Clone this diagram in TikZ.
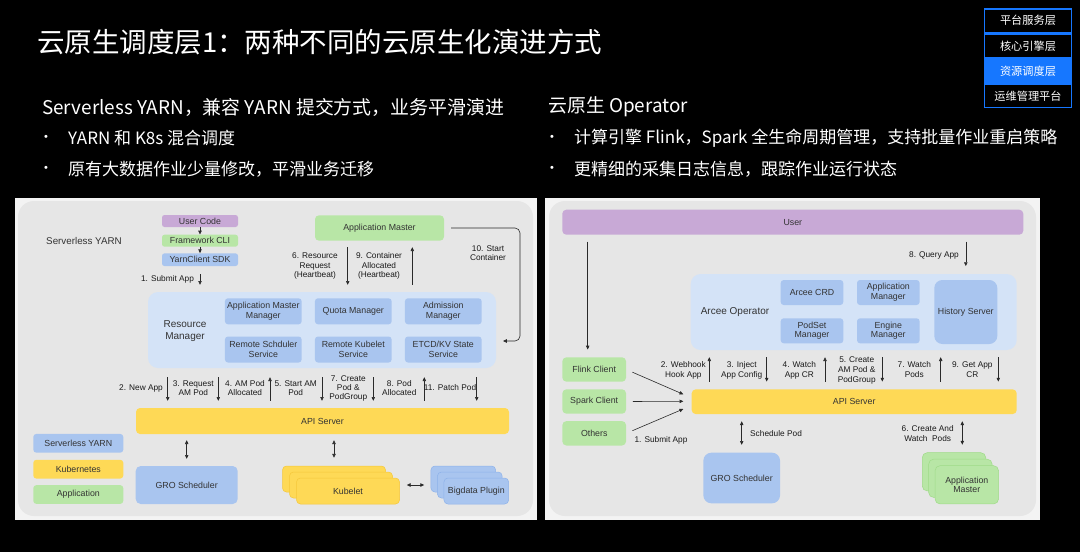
\documentclass[tikz,border=0pt]{standalone}
\usepackage{fontspec}
\setmainfont{Liberation Sans}
\newfontfamily\cjk{Noto Sans CJK SC}
\usetikzlibrary{arrows.meta,calc}
\definecolor{pbg}{HTML}{F3F3F3}
\definecolor{gbg}{HTML}{E6E6E6}
\definecolor{lb}{HTML}{D4E3F7}
\definecolor{bl}{HTML}{A9C5EF}
\definecolor{bld}{HTML}{8DB2EA}
\definecolor{gr}{HTML}{B8E6A6}
\definecolor{grd}{HTML}{9FDB88}
\definecolor{yl}{HTML}{FED956}
\definecolor{yld}{HTML}{F5C73A}
\definecolor{pu}{HTML}{C8A9D6}
\definecolor{tx}{HTML}{333333}
\definecolor{ar}{HTML}{2A2A2A}
\definecolor{nav}{HTML}{1677FF}
\newcommand\flab{\fontsize{8.8}{9.6}\selectfont}
\newcommand\farr{\fontsize{8.3}{9.2}\selectfont}
\newcommand\farrb{\fontsize{8.3}{10}\selectfont}
\newcommand\fbig{\fontsize{10}{11.5}\selectfont}
\begin{document}
\begin{tikzpicture}[x=1pt,y=-1pt,
  bx/.style={rounded corners=3pt, inner sep=0pt, align=center, font=\flab, text=tx},
  ib/.style={bx, fill=bl, minimum width=76.7pt, minimum height=26pt},
  ib2/.style={bx, fill=bl, minimum width=62.6pt, minimum height=25pt},
  kst/.style={bx, fill=yl, draw=yld, line width=0.5pt, minimum width=103pt, minimum height=26pt, rounded corners=4pt},
  bst/.style={bx, fill=bl, draw=bld, line width=0.5pt, minimum width=64.7pt, minimum height=26pt, rounded corners=4pt},
  ast/.style={bx, fill=gr, draw=grd, line width=0.5pt, minimum width=63.5pt, minimum height=38.3pt, rounded corners=5pt},
  cl/.style={bx, fill=gr, minimum width=63.7pt, minimum height=24.4pt, rounded corners=4pt},
  lg/.style={bx, minimum width=90pt, minimum height=18.7pt},
  arr/.style={-{Triangle[length=3.8pt,width=3.4pt]}, line width=0.6pt, draw=ar},
  dbl/.style={{Triangle[length=3.8pt,width=3.4pt]}-{Triangle[length=3.8pt,width=3.4pt]}, line width=0.6pt, draw=ar},
  lab/.style={font=\farr, align=center, text=black!90, inner sep=0pt},
  labr/.style={font=\farrb, align=center, text=black!90, inner sep=0pt},
  big/.style={font=\fbig, align=center, text=tx, inner sep=0pt},
  hd/.style={anchor=west, text=white, inner sep=0pt, font=\cjk\fontsize{18.9}{22}\selectfont},
  bt/.style={anchor=west, text=white, inner sep=0pt, font=\cjk\fontsize{17}{20}\selectfont},
  bdot/.style={text=white, inner sep=0pt, font=\fontsize{11}{13}\selectfont},
  navb/.style={draw=nav, line width=1.5pt, fill=black, minimum width=87pt, minimum height=23.5pt, text=white, inner sep=0pt, font=\cjk\fontsize{11.2}{13}\selectfont}
]
\useasboundingbox (0,0) rectangle (1080,552);
\fill[black] (0,0) rectangle (1080,552);

% ---------- header ----------
\node[anchor=west, text=white, inner sep=0pt, font=\cjk\fontsize{27.5}{30}\selectfont] (title) at (37,42) {云原生调度层1：两种不同的云原生化演进方式};
\node[hd] (s1) at (42,107) {Serverless YARN，兼容 YARN 提交方式，业务平滑演进};
\node[bdot] (d1) at (46,138) {•};
\node[bt] (b1) at (68,138) {YARN 和 K8s 混合调度};
\node[bdot] (d2) at (46,169) {•};
\node[bt] (b2) at (68,169) {原有大数据作业少量修改，平滑业务迁移};
\node[hd] (s2) at (548,107) {云原生 Operator};
\node[bdot] (d3) at (552,138) {•};
\node[bt] (b3) at (574,138) {计算引擎 Flink，Spark 全生命周期管理，支持批量作业重启策略};
\node[bdot] (d4) at (552,169) {•};
\node[bt] (b4) at (574,169) {更精细的采集日志信息，跟踪作业运行状态};

% nav
\node[navb] (n1) at (1028,20.5) {平台服务层};
\node[navb] (n2) at (1028,45.8) {核心引擎层};
\node[navb, fill=nav] (n3) at (1028,70.8) {资源调度层};
\node[navb] (n4) at (1028,95.8) {运维管理平台};

% ---------- panels ----------
\fill[pbg] (15,198) rectangle (537,520);
\fill[gbg, rounded corners=16pt] (18,201) rectangle (533,516);
\fill[pbg] (545,198) rectangle (1040,520);
\fill[gbg, rounded corners=16pt] (549,201) rectangle (1036,516);

% ---------- left diagram ----------
\node[font=\fontsize{9.8}{11}\selectfont, text=tx, inner sep=0pt] (sylab) at (84,241) {Serverless YARN};
\node[bx, fill=pu, minimum width=76pt, minimum height=12pt, rounded corners=2.5pt] (uc) at (200,221) {User Code};
\node[bx, fill=gr, minimum width=76pt, minimum height=12pt, rounded corners=2.5pt] (fc) at (200,240.7) {Framework CLI};
\node[bx, fill=bl, minimum width=76pt, minimum height=12.7pt, rounded corners=2.5pt] (ys) at (200,259.7) {YarnClient SDK};
\draw[arr] (uc) -- (fc);
\draw[arr] (fc) -- (ys);

\node[bx, fill=lb, rounded corners=10pt, minimum width=348pt, minimum height=76pt] (rm) at (322,330) {};
\node[big] (rml) at (185,331) {Resource\\Manager};
\node[ib] (amm) at (263.3,311.3) {Application Master\\Manager};
\node[ib] (qm) at (353.3,311.3) {Quota Manager};
\node[ib] (adm) at (443.3,311.3) {Admission\\Manager};
\node[ib] (rss) at (263.3,349.5) {Remote Schduler\\Service};
\node[ib] (rks) at (353.3,349.5) {Remote Kubelet\\Service};
\node[ib] (etcd) at (443.3,349.5) {ETCD/KV State\\Service};

\draw[arr, shorten <=8pt, shorten >=7pt] (ys.south) -- (ys.south |- rm.north);
\node[lab] (l1) at (167.5,279) {1. Submit App};

\node[bx, fill=gr, minimum width=129pt, minimum height=25.4pt, rounded corners=4pt] (am) at (379.5,228) {Application Master};
\draw[arr, shorten <=6.3pt, shorten >=7pt] (am.south -| 347.7,0) -- (rm.north -| 347.7,0);
\draw[arr, shorten <=7pt, shorten >=6.3pt] (rm.north -| 412.3,0) -- (am.south -| 412.3,0);
\node[lab] (l6) at (315,266) {6. Resource\\Request\\(Heartbeat)};
\node[lab] (l9) at (379,266) {9. Container\\Allocated\\(Heartbeat)};
\coordinate (c10a) at (520,228);
\coordinate (c10b) at (520,341);
\coordinate (c10e) at (503,341);
\draw[arr, rounded corners=5pt, shorten <=7pt] (am.east) -- (c10a) -- (c10b) -- (c10e);
\node[lab] (l10) at (488,253) {10. Start\\Container};

\node[bx, fill=yl, minimum width=373pt, minimum height=26pt, rounded corners=4pt] (api) at (322.5,421) {API Server};
\foreach \xx in {167.7,218.3,322,373.3,476.7}
  \draw[arr, shorten <=9pt, shorten >=7pt] (rm.south -| \xx,0) -- (api.north -| \xx,0);
\foreach \xx in {270,424.3}
  \draw[arr, shorten <=7pt, shorten >=9pt] (api.north -| \xx,0) -- (rm.south -| \xx,0);
\node[lab] (lb2) at (141,388) {2. New App};
\node[lab] (lb3) at (193.3,388.3) {3. Request\\AM Pod};
\node[lab] (lb4) at (245,388.3) {4. AM Pod\\Allocated};
\node[lab] (lb5) at (295.7,388.3) {5. Start AM\\Pod};
\node[lab] (lb7) at (348.3,388.5) {7. Create\\Pod \&\\PodGroup};
\node[lab] (lb8) at (399.3,388.3) {8. Pod\\Allocated};
\node[lab] (lb11) at (450,388) {11. Patch Pod};

\node[lg, fill=bl] (lg1) at (78.3,443.3) {Serverless YARN};
\node[lg, fill=yl] (lg2) at (78.3,469.2) {Kubernetes};
\node[lg, fill=gr] (lg3) at (78.3,494.5) {Application};

\node[bx, fill=bl, minimum width=102pt, minimum height=38pt, rounded corners=5pt] (gro) at (186.7,485) {GRO Scheduler};
\draw[dbl, shorten <=6pt, shorten >=7pt] (api.south -| gro.north) -- (gro.north);

\node[kst] (kb1) at (334,479) {};
\node[kst] (kb2) at (341,485) {};
\node[kst] (kb3) at (348,491) {Kubelet};
\draw[dbl, shorten <=6pt, shorten >=8pt] (api.south -| kb1.north) -- (kb1.north);
\node[bst] (bd1) at (463.3,479) {};
\node[bst] (bd2) at (469.8,485) {};
\node[bst] (bd3) at (476.3,491) {Bigdata Plugin};
\draw[dbl, shorten <=14pt, shorten >=13pt] (kb2.east) -- (bd2.west);

% ---------- right diagram ----------
\node[bx, fill=pu, minimum width=461pt, minimum height=25pt, rounded corners=4pt] (user) at (792.8,222.2) {User};
\node[bx, fill=lb, rounded corners=10pt, minimum width=326pt, minimum height=76pt] (arcee) at (853.7,312) {};
\node[big] (arl) at (735,312.3) {Arcee Operator};
\node[ib2] (crd) at (812,292.5) {Arcee CRD};
\node[ib2] (appm) at (888.3,292.5) {Application\\Manager};
\node[ib2] (psm) at (812,330.8) {PodSet\\Manager};
\node[ib2] (egm) at (888.3,330.8) {Engine\\Manager};
\node[bx, fill=bl, minimum width=63pt, minimum height=64pt, rounded corners=8pt] (hs) at (965.8,312) {History Server};
\draw[arr, shorten <=6.6pt, shorten >=7.7pt] (user.south -| hs.north) -- (hs.north |- arcee.north);
\node[lab] (lq) at (934,255.3) {8. Query App};

\node[cl] (flink) at (594.2,369.5) {Flink Client};
\node[cl] (spark) at (594.2,401.5) {Spark Client};
\node[cl] (oth) at (594.2,433.3) {Others};
\draw[arr, shorten <=6.6pt, shorten >=7.6pt] (user.south -| 587.7,0) -- (flink.north -| 587.7,0);

\node[bx, fill=yl, minimum width=325pt, minimum height=24.7pt, rounded corners=4pt] (api2) at (854.2,401.7) {API Server};
\coordinate (i1) at (683.3,394.3);
\coordinate (i2) at (683.3,401.3);
\coordinate (i3) at (683.3,409);
\draw[arr, shorten <=6.7pt] (flink.east) -- (i1);
\draw[arr, shorten <=6.7pt] (spark.east) -- (i2);
\draw[arr, shorten <=6.7pt] (oth.east) -- (i3);
\node[lab] (ls1) at (661,440) {1. Submit App};

\foreach \xx in {766.7,882.3,998.3}
  \draw[arr, shorten <=7pt, shorten >=7.6pt] (arcee.south -| \xx,0) -- (api2.north -| \xx,0);
\foreach \xx in {709.3,825,940.7}
  \draw[arr, shorten <=7.6pt, shorten >=7pt] (api2.north -| \xx,0) -- (arcee.south -| \xx,0);
\node[labr] (r2) at (683.3,370) {2. Webhook\\Hook App};
\node[labr] (r3) at (741.7,370) {3. Inject\\App Config};
\node[labr] (r4) at (799.3,370) {4. Watch\\App CR};
\node[labr] (r5) at (856.7,370) {5. Create\\AM Pod \&\\PodGroup};
\node[labr] (r7) at (914.3,370) {7. Watch\\Pods};
\node[labr] (r9) at (972.3,370) {9. Get App\\CR};

\node[bx, fill=bl, minimum width=76.7pt, minimum height=50.6pt, rounded corners=8pt] (gro2) at (741.7,478) {GRO Scheduler};
\draw[dbl, shorten <=7pt, shorten >=7.7pt] (api2.south -| gro2.north) -- (gro2.north);
\node[lab, anchor=west] (lsp) at (750,433.3) {Schedule Pod};

\node[ast] (ams1) at (954,471.8) {};
\node[ast] (ams2) at (960.4,478.3) {};
\node[ast] (ams3) at (966.8,484.8) {Application\\Master};
\draw[dbl, shorten <=7pt, shorten >=7.7pt] (api2.south -| 962.3,0) -- (ams1.north -| 962.3,0);
\node[labr] (l6r) at (927.7,433.3) {6. Create And\\Watch\ \ Pods};
\end{tikzpicture}
\end{document}
